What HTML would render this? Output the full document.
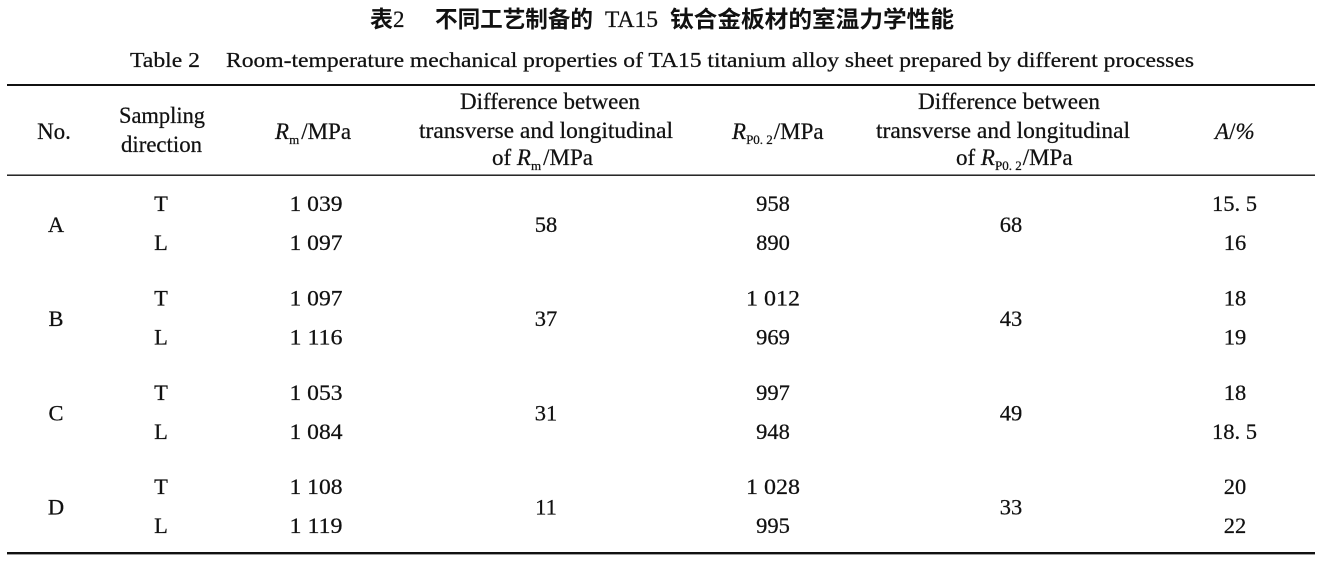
<!DOCTYPE html>
<html>
<head>
<meta charset="utf-8">
<style>
  html, body { margin: 0; padding: 0; background: #fff; }
  body { width: 1323px; height: 565px; overflow: hidden; }
  svg { display: block; }
  .t { font-family: "Liberation Serif", "Times New Roman", serif; fill: #111; stroke: #111; stroke-width: 0.25; }
  .cj { font-family: "Noto Sans CJK SC", "WenQuanYi Zen Hei", sans-serif; fill: #111; font-weight: bold; }
  .h { font-size: 23px; }
  .d { font-size: 22.5px; }
</style>
</head>
<body>
<svg width="1323" height="565" viewBox="0 0 1323 565" xmlns="http://www.w3.org/2000/svg">
  <rect x="0" y="0" width="1323" height="565" fill="#fff"/>

  <!-- Title -->
  <text class="cj" x="370" y="27" font-size="23">表</text>
  <text class="t" x="393" y="27" font-size="23">2</text>
  <text class="cj" x="435" y="27" font-size="23" textLength="158" lengthAdjust="spacingAndGlyphs">不同工艺制备的</text>
  <text class="t" x="605" y="27" font-size="23" textLength="53" lengthAdjust="spacingAndGlyphs">TA15</text>
  <text class="cj" x="670" y="27" font-size="23" textLength="284" lengthAdjust="spacingAndGlyphs">钛合金板材的室温力学性能</text>

  <!-- Subtitle -->
  <text class="t" x="130" y="67" font-size="21" textLength="70" lengthAdjust="spacingAndGlyphs">Table 2</text>
  <text class="t" x="226" y="67" font-size="21" textLength="968" lengthAdjust="spacingAndGlyphs">Room-temperature mechanical properties of TA15 titanium alloy sheet prepared by different processes</text>

  <!-- Rules -->
  <rect x="7" y="84" width="1308" height="2" fill="#111"/>
  <rect x="7" y="174.5" width="1308" height="1.4" fill="#111"/>
  <rect x="7" y="552" width="1308" height="2.4" fill="#111"/>

  <!-- Header -->
  <text class="t h" x="54" y="139" text-anchor="middle">No.</text>
  <text class="t h" x="162" y="123" text-anchor="middle" textLength="86" lengthAdjust="spacingAndGlyphs">Sampling</text>
  <text class="t h" x="161.5" y="152" text-anchor="middle" textLength="81" lengthAdjust="spacingAndGlyphs">direction</text>

  <text class="t h" x="275" y="139"><tspan font-style="italic">R</tspan><tspan font-size="13" dy="5">m</tspan><tspan dy="-5" dx="2">/MPa</tspan></text>

  <text class="t h" x="550" y="109" text-anchor="middle" textLength="180" lengthAdjust="spacingAndGlyphs">Difference between</text>
  <text class="t h" x="546" y="138" text-anchor="middle" textLength="254" lengthAdjust="spacingAndGlyphs">transverse and longitudinal</text>
  <text class="t h" x="492" y="165">of <tspan font-style="italic">R</tspan><tspan font-size="13" dy="5">m</tspan><tspan dy="-5" dx="2">/MPa</tspan></text>

  <text class="t h" x="732" y="139"><tspan font-style="italic">R</tspan><tspan font-size="13" dy="5">P0. 2</tspan><tspan dy="-5" dx="1">/MPa</tspan></text>

  <text class="t h" x="1009" y="109" text-anchor="middle" textLength="182" lengthAdjust="spacingAndGlyphs">Difference between</text>
  <text class="t h" x="1003" y="138" text-anchor="middle" textLength="254" lengthAdjust="spacingAndGlyphs">transverse and longitudinal</text>
  <text class="t h" x="956" y="165">of <tspan font-style="italic">R</tspan><tspan font-size="13" dy="5">P0. 2</tspan><tspan dy="-5" dx="1">/MPa</tspan></text>

  <text class="t h" x="1215" y="139"><tspan font-style="italic">A</tspan>/<tspan font-style="italic">%</tspan></text>

  <!-- Data group A -->
  <text class="t d" x="56" y="232" text-anchor="middle">A</text>
  <text class="t d" x="161" y="211" text-anchor="middle">T</text>
  <text class="t d" x="161" y="250" text-anchor="middle">L</text>
  <text class="t d" x="316" y="211" text-anchor="middle" textLength="53" lengthAdjust="spacingAndGlyphs">1 039</text>
  <text class="t d" x="316" y="250" text-anchor="middle" textLength="53" lengthAdjust="spacingAndGlyphs">1 097</text>
  <text class="t d" x="546" y="232" text-anchor="middle">58</text>
  <text class="t d" x="773" y="211" text-anchor="middle">958</text>
  <text class="t d" x="773" y="250" text-anchor="middle">890</text>
  <text class="t d" x="1011" y="232" text-anchor="middle">68</text>
  <text class="t d" x="1234.5" y="211" text-anchor="middle">15. 5</text>
  <text class="t d" x="1235" y="250" text-anchor="middle">16</text>

  <!-- Data group B -->
  <text class="t d" x="56" y="326" text-anchor="middle">B</text>
  <text class="t d" x="161" y="305.5" text-anchor="middle">T</text>
  <text class="t d" x="161" y="344.5" text-anchor="middle">L</text>
  <text class="t d" x="316" y="305.5" text-anchor="middle" textLength="53" lengthAdjust="spacingAndGlyphs">1 097</text>
  <text class="t d" x="316" y="344.5" text-anchor="middle" textLength="53" lengthAdjust="spacingAndGlyphs">1 116</text>
  <text class="t d" x="546" y="326" text-anchor="middle">37</text>
  <text class="t d" x="773" y="305.5" text-anchor="middle" textLength="54" lengthAdjust="spacingAndGlyphs">1 012</text>
  <text class="t d" x="773" y="344.5" text-anchor="middle">969</text>
  <text class="t d" x="1011" y="326" text-anchor="middle">43</text>
  <text class="t d" x="1235" y="305.5" text-anchor="middle">18</text>
  <text class="t d" x="1235" y="344.5" text-anchor="middle">19</text>

  <!-- Data group C -->
  <text class="t d" x="56" y="420.5" text-anchor="middle">C</text>
  <text class="t d" x="161" y="400" text-anchor="middle">T</text>
  <text class="t d" x="161" y="439" text-anchor="middle">L</text>
  <text class="t d" x="316" y="400" text-anchor="middle" textLength="53" lengthAdjust="spacingAndGlyphs">1 053</text>
  <text class="t d" x="316" y="439" text-anchor="middle" textLength="53" lengthAdjust="spacingAndGlyphs">1 084</text>
  <text class="t d" x="546" y="420.5" text-anchor="middle">31</text>
  <text class="t d" x="773" y="400" text-anchor="middle">997</text>
  <text class="t d" x="773" y="439" text-anchor="middle">948</text>
  <text class="t d" x="1011" y="420.5" text-anchor="middle">49</text>
  <text class="t d" x="1235" y="400" text-anchor="middle">18</text>
  <text class="t d" x="1234.5" y="439" text-anchor="middle">18. 5</text>

  <!-- Data group D -->
  <text class="t d" x="56" y="514.5" text-anchor="middle">D</text>
  <text class="t d" x="161" y="494" text-anchor="middle">T</text>
  <text class="t d" x="161" y="533" text-anchor="middle">L</text>
  <text class="t d" x="316" y="494" text-anchor="middle" textLength="53" lengthAdjust="spacingAndGlyphs">1 108</text>
  <text class="t d" x="316" y="533" text-anchor="middle" textLength="53" lengthAdjust="spacingAndGlyphs">1 119</text>
  <text class="t d" x="546" y="514.5" text-anchor="middle">11</text>
  <text class="t d" x="773" y="494" text-anchor="middle" textLength="54" lengthAdjust="spacingAndGlyphs">1 028</text>
  <text class="t d" x="773" y="533" text-anchor="middle">995</text>
  <text class="t d" x="1011" y="514.5" text-anchor="middle">33</text>
  <text class="t d" x="1235" y="494" text-anchor="middle">20</text>
  <text class="t d" x="1235" y="533" text-anchor="middle">22</text>
</svg>
</body>
</html>
